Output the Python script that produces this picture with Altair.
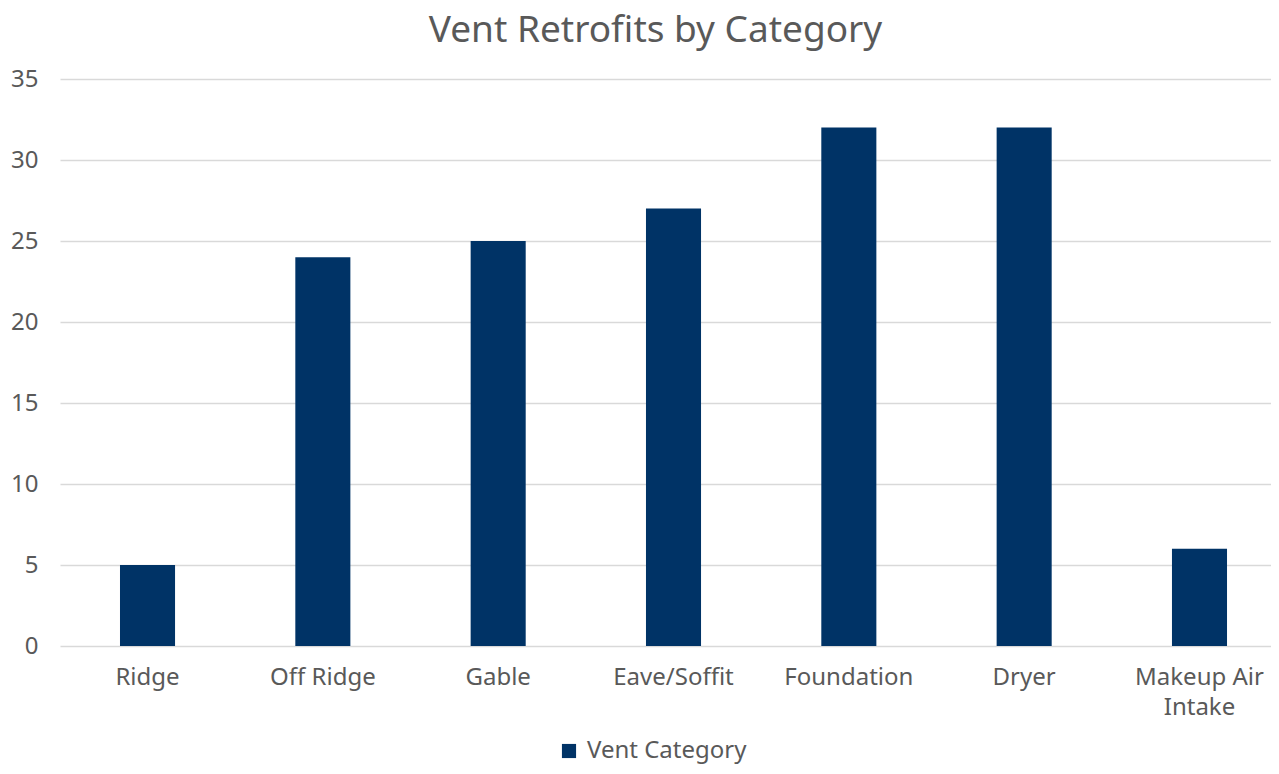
import altair as alt
import pandas as pd

categories = ["Ridge", "Off Ridge", "Gable", "Eave/Soffit", "Foundation", "Dryer", "Makeup Air Intake"]
values = [5, 24, 25, 27, 32, 32, 6]
series_name = "Vent Category"

df = pd.DataFrame({"category": categories, "value": values, "series": [series_name] * len(categories)})

FONT = "Noto Sans"
TEXT = "#595959"

chart = alt.Chart(df).mark_bar(color="#003366").encode(
    x=alt.X(
        "category:N",
        sort=categories,
        title=None,
        scale=alt.Scale(paddingInner=0.686, paddingOuter=0.2965, align=0.577),
        axis=alt.Axis(
            labelAngle=0,
            labelFontSize=24,
            labelColor=TEXT,
            labelFont=FONT,
            labelPadding=31,
            ticks=False,
            domain=False,
            grid=False,
            labelExpr="datum.label == 'Makeup Air Intake' ? ['Makeup Air', 'Intake'] : datum.label",
            labelLineHeight=30,
            labelBaseline="middle",
        ),
    ),
    y=alt.Y(
        "value:Q",
        title=None,
        scale=alt.Scale(domain=[0, 35]),
        axis=alt.Axis(
            values=[0, 5, 10, 15, 20, 25, 30, 35],
            labelFontSize=24,
            labelColor=TEXT,
            labelFont=FONT,
            labelPadding=22,
            ticks=False,
            domain=False,
            gridColor="#d9d9d9",
            gridWidth=1.5,
        ),
    ),
    color=alt.Color(
        "series:N",
        scale=alt.Scale(range=["#003366"]),
        legend=alt.Legend(
            title=None,
            orient="none",
            legendX=497,
            legendY=660,
            direction="horizontal",
            symbolType="square",
            symbolSize=200,
            labelFontSize=24,
            labelColor=TEXT,
            labelFont=FONT,
            labelOffset=6,
        ),
    ),
).properties(
    width=1211,
    height=567,
    title=alt.TitleParams(
        "Vent Retrofits by Category",
        fontSize=37,
        font=FONT,
        fontWeight="normal",
        color=TEXT,
        anchor="middle",
        offset=17,
        dx=-10,
    ),
    autosize=alt.AutoSizeParams(type="none"),
    padding={"left": 52, "top": 71, "right": 0, "bottom": 120},
    background="white",
).configure_view(stroke=None)

chart.save("out.html", embed_options={"renderer": "svg", "actions": False})
